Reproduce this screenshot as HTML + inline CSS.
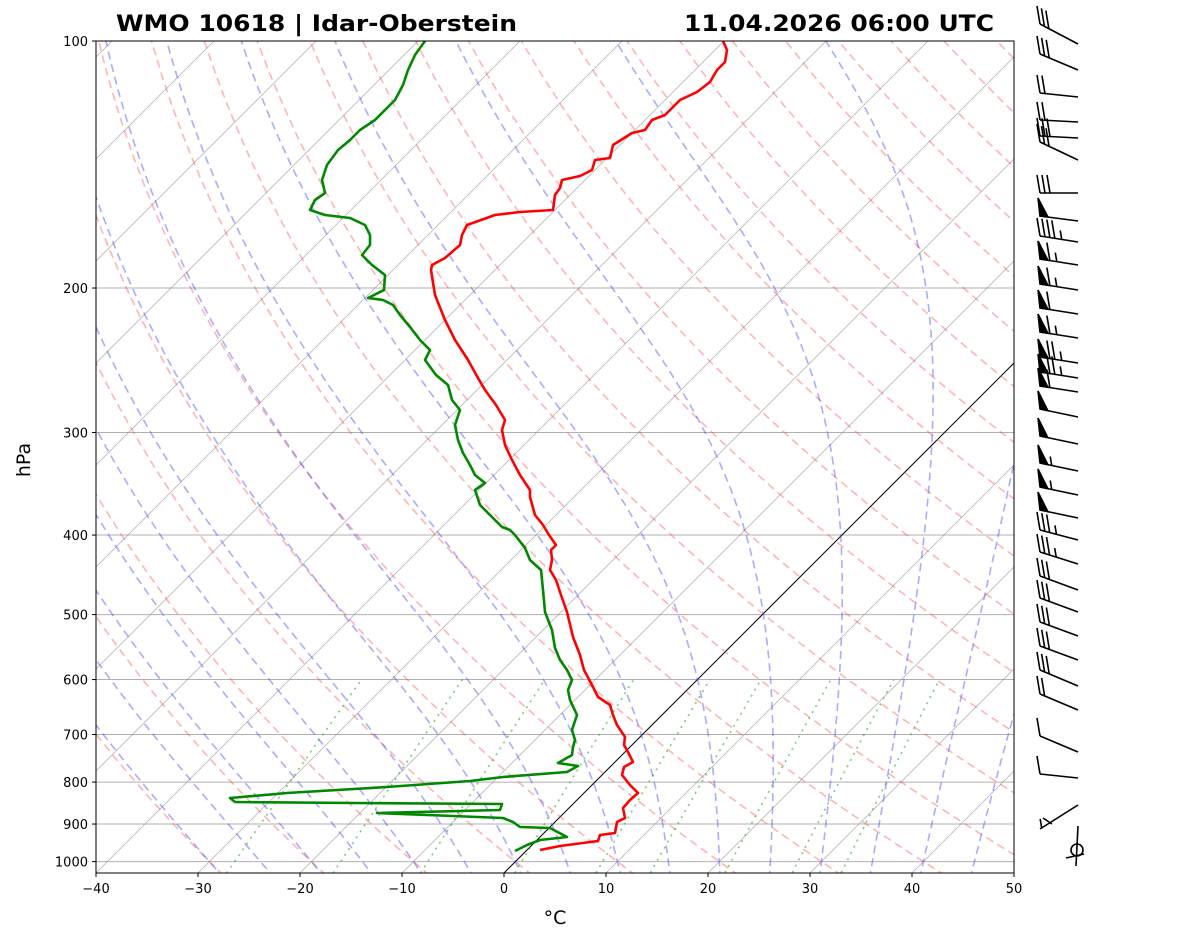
<!DOCTYPE html>
<html><head><meta charset="utf-8"><style>
body{margin:0;background:#fff;}
svg{display:block;font-family:"DejaVu Sans","Liberation Sans",sans-serif;}
</style></head><body>
<svg id="s" width="1181" height="941" viewBox="0 0 1181 941" xmlns="http://www.w3.org/2000/svg">
<defs><clipPath id="c"><rect x="96" y="41" width="918" height="832"/></clipPath></defs>
<rect width="1181" height="941" fill="#fff"/>
<g id="bg" clip-path="url(#c)"></g>
<g id="prof" clip-path="url(#c)" fill="none" stroke-width="2.6" stroke-linejoin="round"></g>
<rect x="96" y="41" width="918" height="832" fill="none" stroke="#000" stroke-width="1"/>
<g id="ax" font-size="13" fill="#000"></g>
<text x="116" y="31" font-size="22" font-weight="bold" textLength="401" lengthAdjust="spacingAndGlyphs">WMO 10618 | Idar-Oberstein</text>
<text x="684" y="31" font-size="22" font-weight="bold" textLength="310" lengthAdjust="spacingAndGlyphs">11.04.2026 06:00 UTC</text>
<text x="555" y="924" font-size="19" text-anchor="middle">°C</text>
<text x="30" y="460" font-size="19" text-anchor="middle" transform="rotate(-90 30 460)">hPa</text>
<g id="wb" stroke="#000" stroke-width="1.6" fill="#000"></g>
</svg>
<script>
const NS="http://www.w3.org/2000/svg";
function Y(p){return 41+820.6*Math.log10(p/100);}
function X(T,p){return 504+10.2*T+(873-Y(p));}
function el(par,tag,at){const e=document.createElementNS(NS,tag);for(const k in at)e.setAttribute(k,at[k]);document.getElementById(par).appendChild(e);return e;}
function pl(par,pts,at){at.points=pts.map(q=>q[0].toFixed(1)+","+q[1].toFixed(1)).join(" ");at.fill="none";return el(par,"polyline",at);}
const ps=[];for(let p=1040;p>=100;p-=10)ps.push(p);
[200,300,400,500,600,700,800,900,1000].forEach(p=>el("bg","line",{x1:96,x2:1014,y1:Y(p),y2:Y(p),stroke:"#b0b0b0","stroke-width":1}));
for(let T=-120;T<=50;T+=10){el("bg","line",{x1:X(T,1040),y1:Y(1040),x2:X(T,100),y2:Y(100),stroke:T==0?"#000":"#888","stroke-width":T==0?1:0.7,"stroke-opacity":T==0?1:0.7});}
for(let th=-30;th<=200;th+=10){const K=th+273.15;pl("bg",ps.map(p=>[X(K*Math.pow(p/1000,0.2857)-273.15,p),Y(p)]),{stroke:"#f44","stroke-opacity":0.4,"stroke-width":1.6,"stroke-dasharray":"8,5"});}
function es(T){return 6.112*Math.exp(17.67*T/(T+243.5));}
function dTdp(p,Tk){const Rd=287.04,Cp=1005.7,Lv=2.501e6,eps=0.622;const e=es(Tk-273.15);const rs=eps*e/(p-e);return (1/p)*(Rd*Tk+Lv*rs)/(Cp+Lv*Lv*rs*eps/(Rd*Tk*Tk));}
for(let T0=-30;T0<=45;T0+=5){let pts=[];let Tk=T0+273.15;
 let t=Tk;for(let p=1000;p<1050;p+=5){t+=dTdp(p,t)*5;} pts.push([X(t-273.15,1050),Y(1050)]);
 Tk=T0+273.15;for(let p=1000;p>=100;p-=5){pts.push([X(Tk-273.15,p),Y(p)]);Tk-=dTdp(p,Tk)*5;}
 pl("bg",pts,{stroke:"#44f","stroke-opacity":0.45,"stroke-width":1.6,"stroke-dasharray":"8,5"});}
[0.0004,0.001,0.002,0.004,0.007,0.01,0.016,0.024,0.032].forEach(w=>{const pts=[];for(let p=1050;p>=600;p-=10){const e=p*w/(0.622+w);const l=Math.log(e/6.112);pts.push([X(243.5*l/(17.67-l),p),Y(p)]);}pl("bg",pts,{stroke:"#2a2","stroke-opacity":0.6,"stroke-width":1.6,"stroke-dasharray":"2,5"});});
const Tp=[[540,850],[560,846],[598,841],[600,835],[615,833],[617,822],[625,818],[623,808],[630,800],[638,793],[630,785],[622,775],[624,767],[633,762],[628,752],[624,745],[625,737],[617,725],[613,715],[610,705],[598,697],[592,685],[584,670],[580,655],[573,637],[567,612],[561,595],[556,580],[550,570],[552,560],[551,550],[556,545],[549,535],[543,525],[535,515],[530,497],[530,490],[520,475],[512,460],[505,445],[502,430],[505,420],[496,405],[485,390],[478,378],[468,360],[455,340],[445,320],[435,295],[431,270],[432,265],[445,258],[460,245],[462,235],[467,225],[495,215],[520,212],[553,210],[555,195],[560,188],[562,180],[580,176],[592,170],[595,160],[610,158],[613,145],[632,133],[645,130],[652,120],[665,115],[680,100],[697,92],[710,82],[717,70],[725,62],[727,50],[723,41]];
pl("prof",Tp,{stroke:"#f00","stroke-width":2.6});
const Dp=[[515,851],[527,845],[540,840],[567,837],[550,828],[520,827],[513,822],[503,818],[453,816],[377,813],[500,810],[502,804],[353,803],[235,802],[230,798],[287,793],[387,787],[470,781],[503,777],[567,772],[578,766],[558,763],[572,755],[573,747],[575,740],[572,730],[577,715],[570,700],[568,690],[572,680],[567,670],[560,660],[555,648],[552,630],[545,612],[543,590],[541,570],[530,560],[525,548],[515,535],[510,530],[502,527],[490,515],[480,505],[475,490],[485,483],[475,475],[470,465],[463,453],[458,440],[455,425],[460,410],[452,400],[448,385],[436,375],[425,360],[430,350],[420,340],[410,327],[400,315],[393,305],[383,300],[368,298],[384,290],[385,275],[372,265],[362,255],[370,245],[370,235],[365,225],[350,218],[325,215],[310,210],[315,200],[325,193],[322,180],[327,165],[338,150],[350,140],[360,130],[375,120],[385,110],[395,100],[403,85],[408,70],[415,55],[425,41]];
pl("prof",Dp,{stroke:"#080","stroke-width":2.6});
[100,200,300,400,500,600,700,800,900,1000].forEach(p=>{const y=Y(p);el("ax","line",{x1:92,x2:96,y1:y,y2:y,stroke:"#000"});const t=el("ax","text",{x:88,y:y+5,"text-anchor":"end"});t.textContent=p;});
for(let T=-40;T<=50;T+=10){const x=504+10.2*T;el("ax","line",{x1:x,x2:x,y1:873,y2:877,stroke:"#000"});const t=el("ax","text",{x:x,y:893,"text-anchor":"middle"});t.textContent=(T<0?"−"+(-T):T);}
const B=[[44,20,0,3,0],[70,16,0,3,0],[97,4,0,2,0],[122,2,0,2,0],[138,2,0,3,0],[160,18,0,3,0],[193,0,0,3,0],[221,5,1,0,0],[242,6,0,4,1],[265,6,1,1,1],[290,6,1,1,1],[314,6,1,1,0],[338,6,1,1,1],[363,6,1,2,1],[378,6,1,2,1],[392,6,1,1,0],[417,8,1,0,0],[444,8,1,0,0],[471,8,1,0,1],[495,8,1,0,1],[518,8,1,0,0],[540,10,0,3,1],[564,12,0,3,1],[590,14,0,3,0],[612,14,0,3,0],[636,14,0,3,0],[660,14,0,3,0],[686,16,0,3,0],[710,16,0,2,0],[752,16,0,1,0],[778,4,0,1,0],[805,-24,0,0,1]];
B.forEach(b=>{const [y,r,f,fb,h]=b;const x1=1078,x0=1040,y0=y-r;el("wb","line",{x1:x1,y1:y,x2:x0,y2:y0});
 const ux=(x1-x0)/Math.hypot(x1-x0,y-y0),uy=(y-y0)/Math.hypot(x1-x0,y-y0);let k=0;
 for(let i=0;i<f;i++){const ax=x0+ux*k,ay=y0+uy*k,bx=x0+ux*(k+8),by=y0+uy*(k+8);el("wb","polygon",{points:`${ax},${ay} ${ax-2},${ay-18} ${bx},${by}`});k+=10;}
 for(let i=0;i<fb;i++){const ax=x0+ux*k,ay=y0+uy*k;el("wb","line",{x1:ax,y1:ay,x2:ax-3,y2:ay-18,fill:"none"});k+=5;}
 if(h){const ax=x0+ux*(k+2),ay=y0+uy*(k+2);el("wb","line",{x1:ax,y1:ay,x2:ax-1.5,y2:ay-9});}
});
el("wb","line",{x1:1043,y1:818,x2:1052,y2:824});
el("wb","line",{x1:1078,y1:826,x2:1076,y2:866});
el("wb","circle",{cx:1077,cy:850,r:6,fill:"none"});
el("wb","line",{x1:1066,y1:858,x2:1084,y2:854});
</script>
</body></html>
